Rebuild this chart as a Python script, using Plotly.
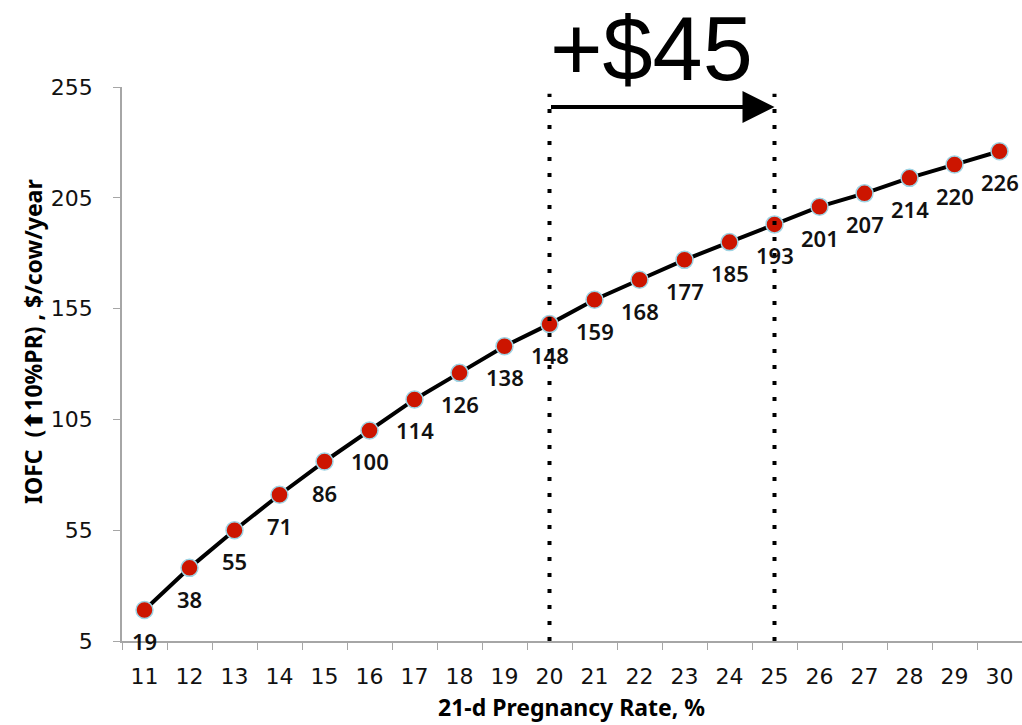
import plotly.graph_objects as go

# 21-day pregnancy rate (%) and income over feed cost ($/cow/year)
preg_rate = [11, 12, 13, 14, 15, 16, 17, 18, 19, 20,
             21, 22, 23, 24, 25, 26, 27, 28, 29, 30]
iofc = [19, 38, 55, 71, 86, 100, 114, 126, 138, 148,
        159, 168, 177, 185, 193, 201, 207, 214, 220, 226]

y_ticks = [5, 55, 105, 155, 205, 255]
gain_from, gain_to = 20, 25
gain_label = "+$45"

# figure geometry (pixels)
W, H = 1022, 725
L, R, T, B = 122, 0, 87, 84
pw, ph = W - L - R, H - T - B


def px_to_paper(px, py):
    return (px - L) / pw, (H - B - py) / ph


fig = go.Figure()
fig.add_trace(go.Scatter(
    x=preg_rate, y=iofc, mode="lines+markers",
    line=dict(color="black", width=4),
    marker=dict(size=17, color="#cc1500", line=dict(color="#9ed4e4", width=1.5)),
    showlegend=False, hoverinfo="skip",
))

# data labels under each point
for r, v in zip(preg_rate, iofc):
    fig.add_annotation(x=r, y=v, text=str(v), showarrow=False,
                       yshift=-31, xanchor="center", yanchor="middle",
                       font=dict(family="Noto Sans", size=22, weight=600, color="#111"))

# dotted guides at the two pregnancy rates
for r in (gain_from, gain_to):
    fig.add_shape(type="line", xref="x", yref="y",
                  x0=r, x1=r, y0=5, y1=252,
                  line=dict(color="black", width=4, dash="4px,12px"))

# arrow and gain text
fig.add_annotation(x=gain_to, y=246, ax=gain_from, ay=246,
                   xref="x", yref="y", axref="x", ayref="y",
                   showarrow=True, arrowhead=2, arrowsize=1.6, arrowwidth=4,
                   arrowcolor="black", text="")
gx, gy = px_to_paper(651, 49)
fig.add_annotation(x=gx, y=gy, xref="paper", yref="paper", text=gain_label,
                   xanchor="center", yanchor="middle", showarrow=False,
                   font=dict(family="Liberation Sans", size=90, color="black"))

# y-axis title
tx, ty = px_to_paper(33, 342)
fig.add_annotation(text="IOFC  (⬆10%PR) , $/cow/year", textangle=-90,
                   xref="paper", yref="paper", x=tx, y=ty,
                   xanchor="center", yanchor="middle", showarrow=False,
                   font=dict(family="Noto Sans", size=23, weight="bold", color="black"))

# x-axis title
xx, xy = px_to_paper(571, 707)
fig.add_annotation(text="21-d Pregnancy Rate, %",
                   xref="paper", yref="paper", x=xx, y=xy,
                   xanchor="center", yanchor="middle", showarrow=False,
                   font=dict(family="Noto Sans", size=23, weight="bold", color="black"))

boundaries = [r - 0.5 for r in preg_rate] + [preg_rate[-1] + 0.5]

fig.update_layout(
    width=W, height=H,
    margin=dict(l=L, r=R, t=T, b=B),
    plot_bgcolor="white", paper_bgcolor="white",
    xaxis=dict(
        range=[boundaries[0], boundaries[-1]], tickvals=preg_rate,
        ticks="outside", ticklen=0, tickcolor="#a6a6a6",
        minor=dict(tickvals=boundaries, ticks="outside", ticklen=7,
                   tickcolor="#a6a6a6", showgrid=False),
        showline=True, linecolor="#a6a6a6", linewidth=1.5,
        showgrid=False, zeroline=False, ticklabelstandoff=15,
        tickfont=dict(family="DejaVu Sans", size=22, color="#111"),
    ),
    yaxis=dict(
        range=[5, 255], tickvals=y_ticks,
        ticks="outside", ticklen=7, tickcolor="#a6a6a6",
        showline=True, linecolor="#a6a6a6", linewidth=1.5,
        showgrid=False, zeroline=False, ticklabelstandoff=16,
        tickfont=dict(family="DejaVu Sans", size=22, color="#111"),
    ),
)

fig.write_html("out.html")
